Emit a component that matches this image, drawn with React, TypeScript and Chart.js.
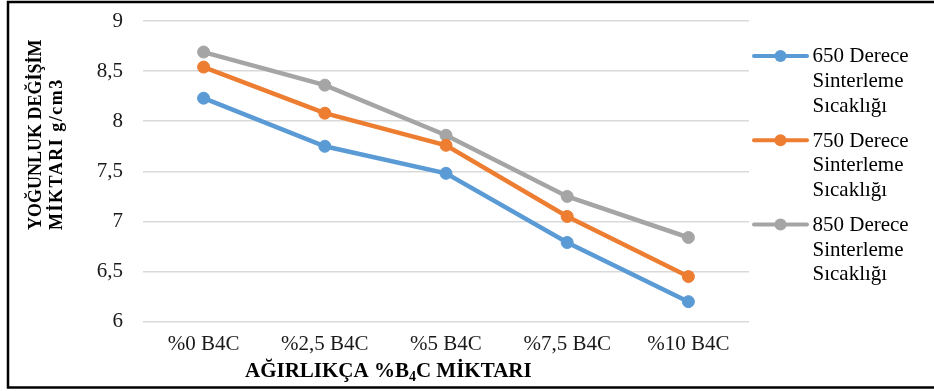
import { useEffect, useRef } from "react";
import { Chart, registerables } from "chart.js";

Chart.register(...registerables);

const categories = ["%0 B4C", "%2,5 B4C", "%5 B4C", "%7,5 B4C", "%10 B4C"];
const density650 = [8.23, 7.75, 7.48, 6.79, 6.2];
const density750 = [8.54, 8.08, 7.76, 7.05, 6.45];
const density850 = [8.69, 8.36, 7.86, 7.25, 6.84];
const seriesLabels = [
  ["650 Derece", "Sinterleme", "Sıcaklığı"],
  ["750 Derece", "Sinterleme", "Sıcaklığı"],
  ["850 Derece", "Sinterleme", "Sıcaklığı"],
];
const seriesColors = ["#5B9BD5", "#ED7D31", "#A5A5A5"];
const yTitleLines = ["YOĞUNLUK DEĞİŞİM", "MİKTARI g/cm3"];
const xTitleParts = ["AĞIRLIKÇA %B", "4", "C MİKTARI"];

const SERIF = "'Liberation Serif', 'Times New Roman', serif";

// Frame, rotated/subscripted axis titles and a multi-line legend.
const decorations = {
  id: "decorations",
  beforeDraw(chart: Chart) {
    const ctx = chart.ctx;
    ctx.save();
    ctx.fillStyle = "#ffffff";
    ctx.fillRect(0, 0, chart.width, chart.height);
    ctx.restore();
  },
  afterDraw(chart: Chart) {
    const ctx = chart.ctx;
    ctx.save();

    // outer frame (left, top, bottom)
    ctx.strokeStyle = "#000000";
    ctx.lineWidth = 2.5;
    ctx.beginPath();
    ctx.moveTo(chart.width, 2);
    ctx.lineTo(8, 2);
    ctx.lineTo(8, 387.5);
    ctx.lineTo(chart.width, 387.5);
    ctx.stroke();

    // y axis title, two rotated lines
    ctx.fillStyle = "#000000";
    ctx.font = `bold 18px ${SERIF}`;
    ctx.textAlign = "left";
    ctx.textBaseline = "alphabetic";
    const yBaselines = [41, 62];
    yTitleLines.forEach((line, i) => {
      ctx.save();
      ctx.translate(yBaselines[i], 230);
      ctx.rotate(-Math.PI / 2);
      if (i === 1) (ctx as any).letterSpacing = "1.5px";
      ctx.fillText(line, 0, 0);
      ctx.restore();
    });

    // x axis title with subscript
    let x = 245;
    const base = 377;
    ctx.font = `bold 21px ${SERIF}`;
    ctx.fillText(xTitleParts[0], x, base);
    x += ctx.measureText(xTitleParts[0]).width;
    ctx.font = `bold 14px ${SERIF}`;
    ctx.fillText(xTitleParts[1], x, base + 4);
    x += ctx.measureText(xTitleParts[1]).width;
    ctx.font = `bold 21px ${SERIF}`;
    ctx.fillText(xTitleParts[2], x, base);

    // legend
    ctx.font = `21px ${SERIF}`;
    seriesLabels.forEach((lines, i) => {
      const cy = 56 + 84.3 * i;
      ctx.strokeStyle = seriesColors[i];
      ctx.lineWidth = 4;
      ctx.lineCap = "round";
      ctx.beginPath();
      ctx.moveTo(754, cy);
      ctx.lineTo(807, cy);
      ctx.stroke();
      ctx.fillStyle = seriesColors[i];
      ctx.beginPath();
      ctx.arc(780.5, cy, 6, 0, Math.PI * 2);
      ctx.fill();
      ctx.fillStyle = "#000000";
      lines.forEach((t, j) => {
        ctx.fillText(t, 812.5, cy + 6.3 + j * 24.7);
      });
    });

    ctx.restore();
  },
};

export default function App() {
  const canvasRef = useRef<HTMLCanvasElement | null>(null);

  useEffect(() => {
    const canvas = canvasRef.current;
    if (!canvas) return;
    const series = [density650, density750, density850];
    const chart = new Chart(canvas, {
      type: "line",
      data: {
        labels: categories,
        datasets: series.map((values, i) => ({
          label: seriesLabels[i].join(" "),
          data: values,
          borderColor: seriesColors[i],
          backgroundColor: seriesColors[i],
          pointBackgroundColor: seriesColors[i],
          pointBorderColor: seriesColors[i],
          borderWidth: 4.5,
          pointRadius: 6,
          pointBorderWidth: 1,
          tension: 0,
          fill: false,
        })),
      },
      options: {
        responsive: false,
        animation: false,
        devicePixelRatio: 1,
        layout: { padding: { top: 21, right: 185, left: 0, bottom: 0 } },
        plugins: {
          legend: { display: false },
          tooltip: { enabled: false },
          title: { display: false },
        },
        scales: {
          x: {
            type: "category",
            offset: true,
            grid: { display: false, drawTicks: false },
            border: { display: false },
            ticks: {
              color: "#1a1a1a",
              font: { family: SERIF, size: 21 },
              padding: 10,
              maxRotation: 0,
              autoSkip: false,
            },
            afterFit(scale: any) {
              scale.height = 391 - 321.7;
              scale.paddingLeft = 0;
              scale.paddingRight = 0;
            },
          },
          y: {
            type: "linear",
            min: 6,
            max: 9,
            grid: { color: "#D9D9D9", lineWidth: 1.5, drawTicks: false },
            border: { display: false },
            ticks: {
              stepSize: 0.5,
              color: "#1a1a1a",
              font: { family: SERIF, size: 21 },
              padding: 20,
              callback: (v: any) => String(v).replace(".", ","),
            },
            afterFit(scale: any) {
              scale.width = 143;
              scale.paddingTop = 0;
              scale.paddingBottom = 0;
            },
          },
        },
      },
      plugins: [decorations],
    });
    return () => chart.destroy();
  }, []);

  return (
    <div style={{ position: "fixed", left: 0, top: 0, width: 934, height: 391, background: "#fff" }}>
      <canvas ref={canvasRef} width={934} height={391} style={{ display: "block", width: 934, height: 391 }} />
    </div>
  );
}
